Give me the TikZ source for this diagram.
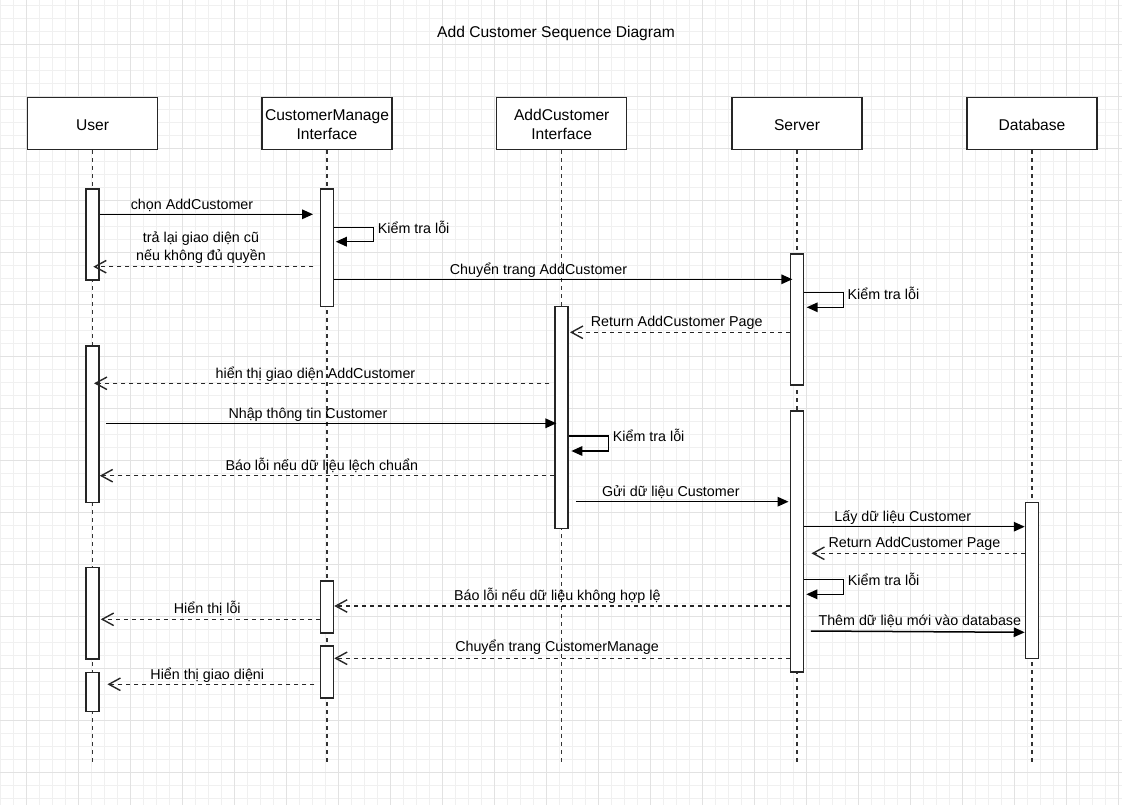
\documentclass[tikz,border=0pt]{standalone}
\usepackage{fontspec}
\setmainfont{Liberation Sans}
\usetikzlibrary{calc,arrows.meta}
\newcommand\lblfont{\fontsize{14.3}{17.2}\selectfont}
\newcommand\hdrfont{\fontsize{15.6}{18.7}\selectfont}
\newcommand\hdrstrut{\rule{0pt}{13.6pt}}
\definecolor{gminorc}{HTML}{F0F0F0}
\definecolor{gmajorc}{HTML}{E2E2E2}
\tikzset{
  gminor/.style={draw=gminorc, line width=1pt},
  gmajor/.style={draw=gmajorc, line width=1pt},
  hdr/.style={draw=black!85, fill=white, line width=1.5pt, minimum width=130pt, minimum height=52pt, inner sep=0pt, align=center, font=\hdrfont},
  act/.style={draw=black!85, fill=white, line width=1.5pt, minimum width=13pt, inner sep=0pt, anchor=north},
  life/.style={draw=black!80, line width=1.5pt, dash pattern=on 4pt off 4pt},
  msg/.style={draw=black, line width=1.5pt, -{Triangle[length=11pt,width=9.5pt]}},
  ret/.style={draw=black!85, line width=1.4pt, dash pattern=on 4pt off 4pt, -{Straight Barb[length=11.5pt,width=12.5pt,line width=1.4pt]}},
  lbl/.style={font=\lblfont, inner sep=0pt, anchor=base},
  lblw/.style={font=\lblfont, inner sep=0pt, anchor=base west},
}
\begin{document}
\begin{tikzpicture}[x=1pt,y=-1pt]
\useasboundingbox (0,0) rectangle (1122,805);
\fill[white] (0,0) rectangle (1122,805);
% grid
\foreach \k in {0,...,86} { \draw[gminor] (13*\k,0) -- (13*\k,805); }
\foreach \k in {0,...,61} { \draw[gminor] (0,5.3+13*\k) -- (1122,5.3+13*\k); }
\foreach \k in {0,...,21} { \draw[gmajor] (26+52*\k,0) -- (26+52*\k,805); }
\foreach \k in {0,...,14} { \draw[gmajor] (0,44.3+52*\k) -- (1122,44.3+52*\k); }

\node[font=\hdrfont, inner sep=0pt, anchor=base] (title) at (556,37.5) {Add Customer Sequence Diagram};

% headers
\node[hdr] (hU) at (92.5,123.3) {\hdrstrut User};
\node[hdr] (hC) at (327,123.3) {\hdrstrut CustomerManage\\Interface};
\node[hdr] (hA) at (561.7,123.3) {\hdrstrut AddCustomer\\Interface};
\node[hdr] (hS) at (797,123.3) {\hdrstrut Server};
\node[hdr] (hD) at (1032,123.3) {\hdrstrut Database};

% lifelines
\draw[life] (hU.south) -- (hU.south |- 0,765);
\draw[life] (hC.south) -- (hC.south |- 0,765);
\draw[life] (hA.south) -- (hA.south |- 0,765);
\draw[life] (hS.south) -- (hS.south |- 0,765);
\draw[life] (hD.south) -- (hD.south |- 0,765);

% activations
\node[act, minimum height=91pt] (u1) at (92.5,188.3) {};
\node[act, minimum height=156.7pt] (u2) at (92.5,345) {};
\node[act, minimum height=91.6pt] (u3) at (92.5,566.7) {};
\node[act, minimum height=39pt] (u4) at (92.5,671.7) {};
\node[act, minimum height=117.4pt] (b1) at (327,188.3) {};
\node[act, minimum height=52.3pt] (b2) at (327,580) {};
\node[act, minimum height=52.3pt] (b3) at (327,645) {};
\node[act, minimum height=222pt] (c1) at (561.7,305.7) {};
\node[act, minimum height=131pt] (d1) at (797,253.3) {};
\node[act, minimum height=261pt] (d2) at (797,410) {};
\node[act, minimum height=156pt] (e1) at (1032,501.7) {};

% messages
\draw[msg] (u1.east |- 0,214.3) -- ($(b1.west |- 0,214.3)+(-6.7,0)$);
\node[lbl] (l1) at (192,209.5) {chọn AddCustomer};

\draw[msg] (b1.east |- 0,227.7) -- ++(39.2,0) -- ++(0,14) -- ($(b1.east |- 0,241.7)+(1.5,0)$);
\node[lblw] (l2) at (377.7,233.8) {Kiểm tra lỗi};

\draw[ret] ($(b1.west |- 0,266.7)+(-6.5,0)$) -- ($(u1.center |- 0,266.7)+(0.8,0)$);
\node[font=\lblfont, inner sep=0pt, anchor=south, align=center] (l3) at (201,263.3) {trả lại giao diện cũ\\nếu không đủ quyền};

\draw[msg] (b1.east |- 0,279.3) -- ($(d1.west |- 0,279.3)+(2.6,0)$);
\node[lbl] (l4) at (538.5,274) {Chuyển trang AddCustomer};

\draw[msg] (d1.east |- 0,292.7) -- ++(39.4,0) -- ++(0,14.6) -- ($(d1.east |- 0,307.3)+(2.4,0)$);
\node[lblw] (l5) at (847.5,299) {Kiểm tra lỗi};

\draw[ret] (d1.west |- 0,332.3) -- ($(c1.east |- 0,332.3)+(1,0)$);
\node[lbl] (l6) at (676.7,326) {Return AddCustomer Page};

\draw[ret] ($(c1.west |- 0,383.3)+(-5,0)$) -- ($(u2.center |- 0,383.3)+(1.5,0)$);
\node[lbl] (l7) at (315.5,378.3) {hiển thị giao diện AddCustomer};

\draw[msg] ($(u2.east |- 0,423.3)+(6,0)$) -- ($(c1.west |- 0,423.3)+(2,0)$);
\node[lbl] (l8) at (308,418) {Nhập thông tin Customer};

\draw[msg] (c1.east |- 0,436) -- ++(39.4,0) -- ++(0,15) -- ($(c1.east |- 0,451)+(2.4,0)$);
\node[lblw] (l9) at (612.7,441.7) {Kiểm tra lỗi};

\draw[ret] (c1.west |- 0,475.7) -- (u2.east |- 0,475.7);
\node[lbl] (l10) at (321.8,470) {Báo lỗi nếu dữ liệu lệch chuẩn};

\draw[msg] ($(c1.east |- 0,501.7)+(6.8,0)$) -- ($(d2.west |- 0,501.7)+(-1.2,0)$);
\node[lbl] (l11) at (670.8,496) {Gửi dữ liệu Customer};

\draw[msg] (d2.east |- 0,526.7) -- (e1.west |- 0,526.7);
\node[lbl] (l12) at (902.8,521) {Lấy dữ liệu Customer};

\draw[ret] (e1.west |- 0,553.3) -- ($(d2.east |- 0,553.3)+(7.2,0)$);
\node[lbl] (l13) at (914.5,547.7) {Return AddCustomer Page};

\draw[msg] (d2.east |- 0,579.3) -- ++(39,0) -- ++(0,15) -- ($(d2.east |- 0,594.3)+(2,0)$);
\node[lblw] (l14) at (847.7,585.7) {Kiểm tra lỗi};

\draw[ret] (d2.west |- 0,606) -- (b2.east |- 0,606);
\node[lbl] (l15) at (557.3,600) {Báo lỗi nếu dữ liệu không hợp lệ};

\draw[ret] (b2.west |- 0,619.3) -- ($(u3.east |- 0,619.3)+(1,0)$);
\node[lbl] (l16) at (207.3,613.3) {Hiển thị lỗi};

\draw[msg] ($(d2.east |- 0,631)+(6.7,0)$) -- (e1.west |- 0,632.3);
\node[lbl] (l17) at (919.8,625) {Thêm dữ liệu mới vào database};

\draw[ret] (d2.west |- 0,658.3) -- (b3.east |- 0,658.3);
\node[lbl] (l18) at (557,651.7) {Chuyển trang CustomerManage};

\draw[ret] ($(b3.west |- 0,684.3)+(-5.5,0)$) -- ($(u4.east |- 0,684.3)+(7.7,0)$);
\node[lbl] (l19) at (207.3,679) {Hiển thị giao diệni};
\end{tikzpicture}
\end{document}
